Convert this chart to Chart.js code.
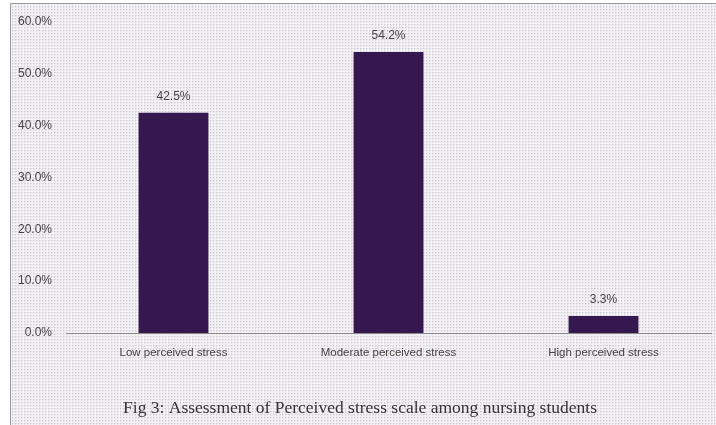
<!DOCTYPE html>
<html>
<head>
<meta charset="utf-8">
<script src="https://cdn.jsdelivr.net/npm/chart.js@4.4.0/dist/chart.umd.min.js"></script>
<style>
  body { margin: 0; background: #fff; }
  canvas { display: block; }
</style>
</head>
<body>
<canvas id="grafico" width="716" height="425"></canvas>
<script>
// dados do gráfico
const categorias = ['Low perceived stress', 'Moderate perceived stress', 'High perceived stress'];
const valores = [42.5, 54.2, 3.3];
const ticksY = [0, 10, 20, 30, 40, 50, 60];
const legenda = 'Fig 3: Assessment of Perceived stress scale among nursing students';

// fundo pontilhado como no original
function criaPadrao(ctx) {
    const t = document.createElement('canvas');
    t.width = 3; t.height = 3;
    const c = t.getContext('2d');
    c.fillStyle = '#f3f1f5';
    c.fillRect(0, 0, 3, 3);
    c.fillStyle = '#cfcbd4';
    c.fillRect(0, 0, 1, 1);
    c.fillStyle = '#e2dfe6';
    c.fillRect(0, 1, 1, 1);
    c.fillRect(1, 0, 1, 1);
    return ctx.createPattern(t, 'repeat');
}

const fundo = {
    id: 'fundo',
    beforeDraw(chart) {
        const ctx = chart.ctx;
        ctx.save();
        ctx.fillStyle = '#ffffff';
        ctx.fillRect(0, 0, chart.width, chart.height);
        ctx.fillStyle = criaPadrao(ctx);
        ctx.fillRect(11, 4, chart.width - 11, chart.height - 4);
        ctx.strokeStyle = '#9a9a9a';
        ctx.lineWidth = 1;
        ctx.beginPath();
        ctx.moveTo(10.5, chart.height);
        ctx.lineTo(10.5, 3.5);
        ctx.lineTo(chart.width, 3.5);
        ctx.stroke();
        ctx.restore();
    },
    afterDatasetsDraw(chart) {
        const ctx = chart.ctx;
        const meta = chart.getDatasetMeta(0);
        ctx.save();
        ctx.font = '12px "Liberation Sans"';
        ctx.fillStyle = '#444';
        ctx.textAlign = 'center';
        ctx.textBaseline = 'middle';
        meta.data.forEach((bar, i) => {
            ctx.fillText(valores[i].toFixed(1) + '%', bar.x, bar.y - 16);
        });
        ctx.font = '17.5px "Liberation Serif"';
        ctx.fillStyle = '#333';
        ctx.fillText(legenda, 360, 408);
        ctx.restore();
    }
};

const ctx = document.getElementById('grafico').getContext('2d');
const chart = new Chart(ctx, {
    type: 'bar',
    data: {
        labels: categorias,
        datasets: [{
            data: valores,
            backgroundColor: '#361850',
            barPercentage: 0.65,
            categoryPercentage: 0.5
        }]
    },
    options: {
        responsive: false,
        animation: false,
        layout: { padding: { left: 10, right: 5, top: 22, bottom: 32 } },
        plugins: {
            legend: { display: false },
            tooltip: { enabled: false }
        },
        scales: {
            x: {
                grid: { display: false },
                border: { display: true, color: '#8a8a8a' },
                ticks: { padding: 5, color: '#444', font: { family: 'Liberation Sans', size: 11.5 } },
                afterFit: s => { s.height = 60; }
            },
            y: {
                min: 0,
                max: 60,
                afterBuildTicks: s => { s.ticks = ticksY.map(v => ({ value: v })); },
                grid: { display: false },
                border: { display: false },
                ticks: {
                    padding: 6,
                    color: '#444',
                    font: { family: 'Liberation Sans', size: 12 },
                    callback: v => v.toFixed(1) + '%'
                },
                afterFit: s => { s.width = 56; }
            }
        }
    },
    plugins: [fundo]
});
</script>
</body>
</html>
